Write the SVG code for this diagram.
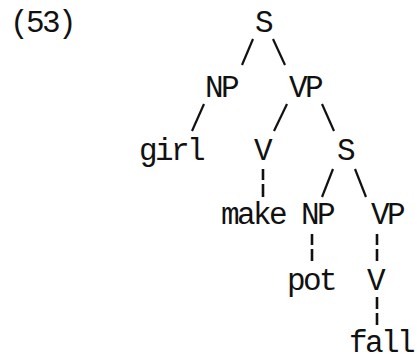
<svg xmlns="http://www.w3.org/2000/svg" width="417" height="358" viewBox="0 0 417 358">
  <style>
    text { font-family: "Liberation Mono", "DejaVu Sans Mono", monospace; font-size: 31px; letter-spacing: -2.6px; fill: #111; text-anchor: middle; }
    .num { text-anchor: start; }
    .branch { stroke: #111; stroke-width: 2.2; stroke-linecap: butt; fill: none; }
    .dash { stroke: #111; stroke-width: 2.6; fill: none; }
  </style>
  <rect width="417" height="358" fill="#fff"/>

  <!-- example number -->
  <text id="ex53" class="num" x="10" y="32">(53)</text>

  <!-- tree edges -->
  <g id="connectors">
    <line class="branch" x1="253" y1="39" x2="242" y2="65"/>
    <line class="branch" x1="273" y1="39" x2="285" y2="65"/>
    <line class="branch" x1="204" y1="104" x2="192" y2="131"/>
    <line class="branch" x1="287" y1="104" x2="274" y2="131"/>
    <line class="branch" x1="322" y1="104" x2="334" y2="131"/>
    <line class="branch" x1="333" y1="169" x2="322" y2="197"/>
    <line class="branch" x1="355" y1="169" x2="366" y2="197"/>
    <!-- V to make -->
    <path class="dash" d="M263 169 V180 M263 184 V197"/>
    <!-- NP to pot -->
    <path class="dash" d="M312 234 V245 M312 249 V261"/>
    <!-- VP to V -->
    <path class="dash" d="M377 234 V245 M377 249 V261"/>
    <!-- V to fall -->
    <path class="dash" d="M377 297 V309 M377 313 V325"/>
  </g>

  <!-- nodes -->
  <g id="s1"><text x="263" y="32">S</text></g>
  <g id="np1"><text x="221" y="97">NP</text></g>
  <g id="vp1"><text x="305" y="97">VP</text></g>
  <g id="girl"><text x="171" y="160">girl</text></g>
  <g id="v1"><text x="262" y="160">V</text></g>
  <g id="s2"><text x="345" y="160">S</text></g>
  <g id="make"><text x="253" y="224">make</text></g>
  <g id="np2"><text x="317" y="224">NP</text></g>
  <g id="vp2"><text x="387" y="224">VP</text></g>
  <g id="pot"><text x="311" y="290">pot</text></g>
  <g id="v2"><text x="375" y="290">V</text></g>
  <g id="fall"><text x="381" y="352">fall</text></g>
</svg>
